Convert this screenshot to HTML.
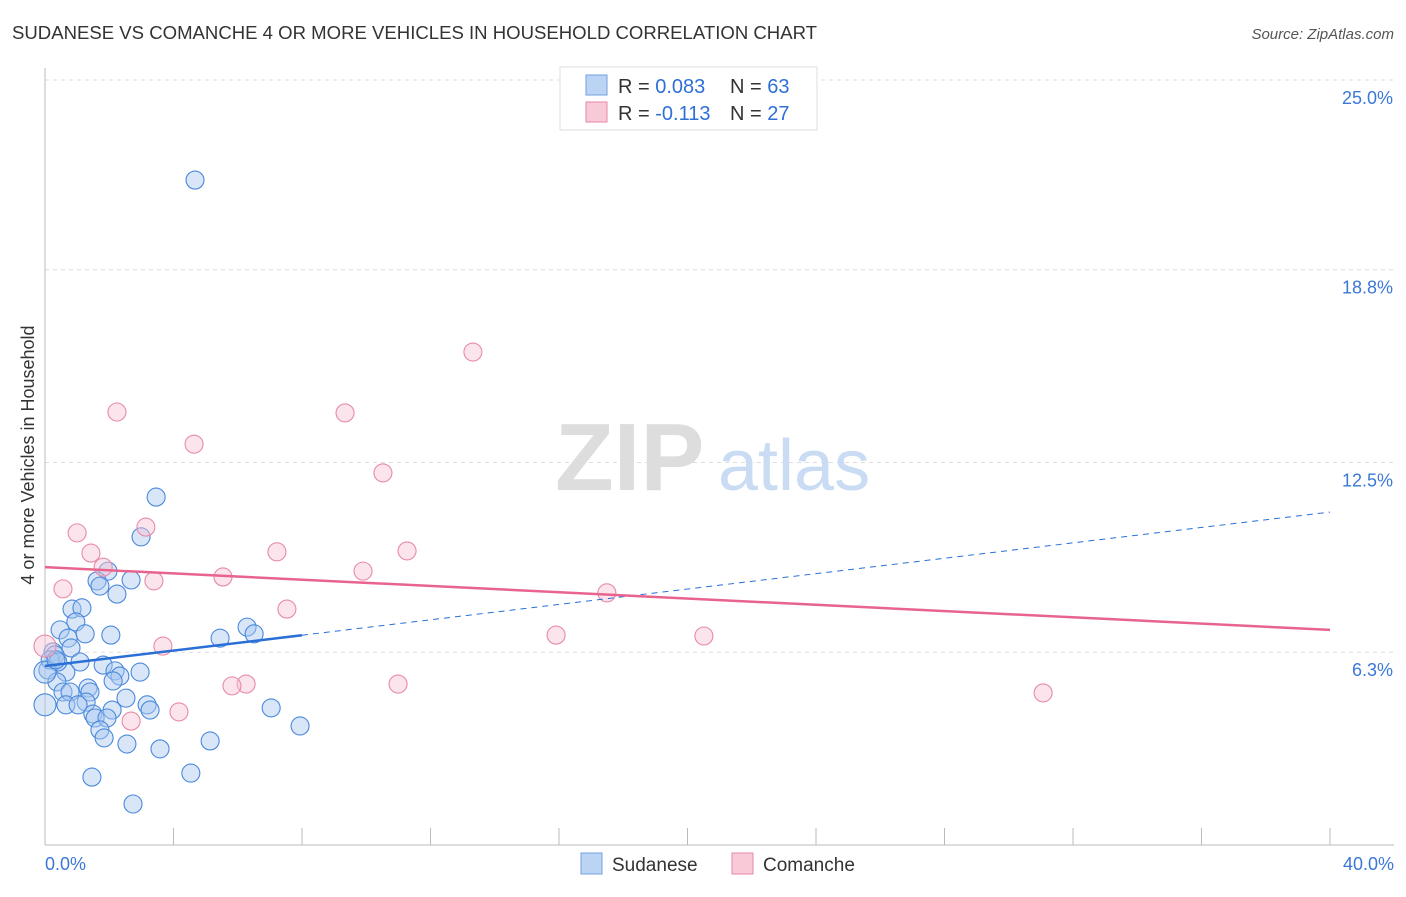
<!DOCTYPE html>
<html><head><meta charset="utf-8"><style>
body{margin:0;background:#fff;font-family:"Liberation Sans",sans-serif}
svg text{font-family:"Liberation Sans",sans-serif}
</style></head><body>
<svg id="chart" width="1406" height="892" xmlns="http://www.w3.org/2000/svg">
<text x="12" y="39" font-size="18" fill="#333" textLength="805" lengthAdjust="spacingAndGlyphs">SUDANESE VS COMANCHE 4 OR MORE VEHICLES IN HOUSEHOLD CORRELATION CHART</text>
<text x="1394" y="39" font-size="15" fill="#555" text-anchor="end" font-style="italic">Source: ZipAtlas.com</text>
<text transform="translate(34,455) rotate(-90)" font-size="18" fill="#333" text-anchor="middle">4 or more Vehicles in Household</text>
<g id="grid"></g>
<g><text x="555" y="490" font-size="96" fill="#ddd" font-family="Liberation Serif" font-weight="bold">ZIP</text><text x="718" y="490" font-size="72" fill="#c9dcf3">atlas</text></g>
<g id="marks"></g>
<g>
<rect x="560" y="67" width="257" height="63" fill="#fff" stroke="#ddd"/>
<rect x="586" y="75" width="21" height="20" fill="#bcd4f4" stroke="#6fa0e0"/>
<text x="618" y="93" font-size="20" fill="#333">R = <tspan fill="#2f6fd6">0.083</tspan></text>
<text x="730" y="93" font-size="20" fill="#333">N = <tspan fill="#2f6fd6">63</tspan></text>
<rect x="586" y="102" width="21" height="20" fill="#f8cad8" stroke="#e68aa6"/>
<text x="618" y="120" font-size="20" fill="#333">R = <tspan fill="#2f6fd6">-0.113</tspan></text>
<text x="730" y="120" font-size="20" fill="#333">N = <tspan fill="#2f6fd6">27</tspan></text>
</g>
<g>
<rect x="581" y="853" width="21" height="21" fill="#bcd4f4" stroke="#6fa0e0"/>
<text x="612" y="871" font-size="19" fill="#333">Sudanese</text>
<rect x="732" y="853" width="21" height="21" fill="#f8cad8" stroke="#e68aa6"/>
<text x="763" y="871" font-size="19" fill="#333">Comanche</text>
</g>
</svg>
<script>
const xTickLabels=["0.0%","40.0%"];
const yTicks=[6.3,12.5,18.8,25.0];
const yTickLabels=["6.3%","12.5%","18.8%","25.0%"];
const blueX=[4.67,3.46,2.99,1.96,1.62,1.71,2.68,2.24,0.84,1.15,0.96,0.47,0.72,1.25,2.05,0.81,0.25,0.31,1.09,0.09,0.65,1.81,2.18,2.33,2.96,2.12,0.37,0.56,0.78,1.34,1.40,1.28,0.65,1.03,2.52,3.18,3.27,2.09,1.49,1.56,1.93,1.71,1.84,2.55,3.58,5.14,4.54,1.46,2.74,5.45,6.29,6.51,7.04,7.94,0,0.16,0.40,0,0.34];
const blueY=[21.73,11.37,10.07,8.95,8.63,8.46,8.66,8.20,7.71,7.75,7.29,7.03,6.76,6.90,6.86,6.44,6.31,6.21,5.98,5.72,5.65,5.88,5.69,5.52,5.65,5.36,5.33,5.00,5.00,5.13,5.00,4.67,4.58,4.58,4.80,4.58,4.41,4.41,4.28,4.15,4.15,3.76,3.50,3.30,3.14,3.40,2.35,2.22,1.34,6.76,7.12,6.90,4.48,3.89,4.58,6.05,5.98,5.65,6.05];
const pinkX=[13.32,2.24,9.34,4.64,10.52,1.00,3.14,1.43,7.22,11.27,1.81,0.56,3.39,5.54,9.90,17.49,7.53,15.91,20.51,3.67,0,6.26,5.82,10.99,31.07,4.17,2.68];
const pinkY=[16.11,14.15,14.12,13.10,12.16,10.20,10.39,9.54,9.58,9.61,9.08,8.37,8.63,8.76,8.95,8.24,7.71,6.86,6.83,6.50,6.50,5.26,5.20,5.26,4.97,4.35,4.05];
const blueTrend=[5.85,10.88];
const pinkTrend=[9.08,7.03];
const blueSolidEnd=8;

const NS="http://www.w3.org/2000/svg";
const X0=45,X1=1330,Y0=845,YTOP=80;
const xs=v=>X0+(v/40)*(X1-X0);
const ys=v=>Y0-(v/25)*(Y0-YTOP);
function mk(tag,attrs,parent){const e=document.createElementNS(NS,tag);for(const k in attrs)e.setAttribute(k,attrs[k]);parent.appendChild(e);return e;}
const grid=document.getElementById('grid'),marks=document.getElementById('marks');
yTicks.forEach((t,i)=>{
 const g=mk('line',{x1:45,x2:1394,y1:ys(t),y2:ys(t),stroke:'#ddd','stroke-dasharray':'4,4'},grid);
 
 
 const l=mk('text',{x:1393,y:ys(t)+24,'font-size':18,fill:'#3b78d8','text-anchor':'end'},grid);
 l.textContent=yTickLabels[i];
 
 
});
const ax=mk('line',{x1:45,x2:45,y1:68,y2:845,stroke:'#bbb'},grid);


const bx=mk('line',{x1:45,x2:1394,y1:845,y2:845,stroke:'#bbb'},grid);


for(let i=0;i<=10;i++){const t=mk('line',{x1:xs(i*4),x2:xs(i*4),y1:828,y2:845,stroke:'#bbb'},grid);
 
 }
[[0,'start',45],[40,'end',1394]].forEach((a,i)=>{const t=mk('text',{x:a[2],y:870,'font-size':18,fill:'#3b78d8','text-anchor':a[1]},grid);t.textContent=xTickLabels[i];
 
 });
function dots(X,Y,fill,stroke,name){X.forEach((x,i)=>{const r=(x===0)?11:9;
 const c=mk('circle',{cx:xs(x),cy:ys(Y[i]),r:r,fill:fill,'fill-opacity':0.45,stroke:stroke,'stroke-width':1.1},marks);
 
 });}
dots(blueX,blueY,'#a9c8f0','#4a89dc','sudanese-point');
dots(pinkX,pinkY,'#f7c3d3','#e88aa8','comanche-point');
const bl=t=>blueTrend[0]+(blueTrend[1]-blueTrend[0])*t/40;
const l1=mk('line',{x1:xs(0),y1:ys(bl(0)),x2:xs(blueSolidEnd),y2:ys(bl(blueSolidEnd)),stroke:'#2a6fd6','stroke-width':2.5},marks);


const l2=mk('line',{x1:xs(blueSolidEnd),y1:ys(bl(blueSolidEnd)),x2:xs(40),y2:ys(bl(40)),stroke:'#2a6fd6','stroke-width':1,'stroke-dasharray':'6,5'},marks);


const l3=mk('line',{x1:xs(0),y1:ys(pinkTrend[0]),x2:xs(40),y2:ys(pinkTrend[1]),stroke:'#e8648e','stroke-width':2.5},marks);


</script>
</body></html>
